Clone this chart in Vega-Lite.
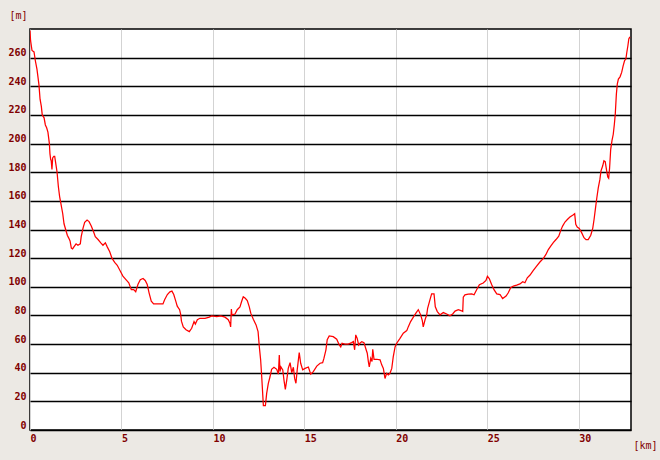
{
  "$schema": "https://vega.github.io/schema/vega-lite/v6.json",
  "width": 601,
  "height": 401,
  "autosize": "none",
  "padding": {"left": 30, "top": 29, "right": 29, "bottom": 30},
  "background": "#ECE9E4",
  "config": {
    "view": {"fill": "#FFFFFF", "stroke": "#000000", "strokeWidth": 1.5},
    "axis": {
      "labelFont": "DejaVu Sans Mono",
      "labelFontWeight": "bold",
      "labelFontSize": 10,
      "labelColor": "#800000",
      "titleFont": "DejaVu Sans Mono",
      "titleFontWeight": "normal",
      "titleFontSize": 10,
      "titleColor": "#800000",
      "ticks": false,
      "domain": false
    }
  },
  "data": {
    "values": [
      {"km": 0, "m": 279}, {"km": 0.03, "m": 272}, {"km": 0.11, "m": 265}, {"km": 0.22, "m": 264},
      {"km": 0.29, "m": 258}, {"km": 0.38, "m": 252}, {"km": 0.44, "m": 246}, {"km": 0.49, "m": 241},
      {"km": 0.55, "m": 231}, {"km": 0.62, "m": 226}, {"km": 0.67, "m": 220}, {"km": 0.77, "m": 218},
      {"km": 0.84, "m": 213}, {"km": 0.91, "m": 211}, {"km": 0.98, "m": 208}, {"km": 1.06, "m": 200},
      {"km": 1.09, "m": 193}, {"km": 1.13, "m": 189}, {"km": 1.16, "m": 188}, {"km": 1.2, "m": 182},
      {"km": 1.24, "m": 190}, {"km": 1.3, "m": 191}, {"km": 1.35, "m": 191}, {"km": 1.41, "m": 186},
      {"km": 1.48, "m": 180}, {"km": 1.55, "m": 170}, {"km": 1.62, "m": 163}, {"km": 1.69, "m": 158},
      {"km": 1.79, "m": 151}, {"km": 1.86, "m": 144}, {"km": 1.95, "m": 140}, {"km": 2.04, "m": 136},
      {"km": 2.12, "m": 134}, {"km": 2.19, "m": 132}, {"km": 2.26, "m": 127}, {"km": 2.33, "m": 126.5},
      {"km": 2.41, "m": 128}, {"km": 2.52, "m": 130}, {"km": 2.62, "m": 129}, {"km": 2.75, "m": 130},
      {"km": 2.8, "m": 135}, {"km": 2.9, "m": 141}, {"km": 2.99, "m": 145}, {"km": 3.12, "m": 146.6},
      {"km": 3.23, "m": 145.5}, {"km": 3.35, "m": 142.5}, {"km": 3.46, "m": 139}, {"km": 3.57, "m": 135},
      {"km": 3.72, "m": 133}, {"km": 3.87, "m": 130.7}, {"km": 3.99, "m": 129}, {"km": 4.12, "m": 130.7},
      {"km": 4.23, "m": 127.7}, {"km": 4.36, "m": 124.5}, {"km": 4.48, "m": 120}, {"km": 4.63, "m": 117},
      {"km": 4.77, "m": 115}, {"km": 4.92, "m": 111.4}, {"km": 5.08, "m": 107.5}, {"km": 5.27, "m": 104.7},
      {"km": 5.4, "m": 102.8}, {"km": 5.54, "m": 98}, {"km": 5.67, "m": 98}, {"km": 5.78, "m": 96.5},
      {"km": 5.9, "m": 101.6}, {"km": 6.03, "m": 105}, {"km": 6.18, "m": 105.8}, {"km": 6.3, "m": 104.4},
      {"km": 6.41, "m": 101.6}, {"km": 6.51, "m": 95.8}, {"km": 6.63, "m": 90}, {"km": 6.76, "m": 88},
      {"km": 7.0, "m": 88}, {"km": 7.27, "m": 88}, {"km": 7.36, "m": 91}, {"km": 7.51, "m": 94.6},
      {"km": 7.65, "m": 96.5}, {"km": 7.76, "m": 97}, {"km": 7.86, "m": 94.6}, {"km": 7.97, "m": 90},
      {"km": 8.05, "m": 86.5}, {"km": 8.18, "m": 84}, {"km": 8.24, "m": 80.6}, {"km": 8.28, "m": 76},
      {"km": 8.38, "m": 72}, {"km": 8.53, "m": 70}, {"km": 8.71, "m": 68.7}, {"km": 8.84, "m": 71},
      {"km": 8.97, "m": 75.7}, {"km": 9.04, "m": 74}, {"km": 9.15, "m": 77}, {"km": 9.29, "m": 78},
      {"km": 9.57, "m": 78}, {"km": 9.8, "m": 78.8}, {"km": 9.93, "m": 79.7}, {"km": 10.21, "m": 79.2},
      {"km": 10.43, "m": 79.7}, {"km": 10.66, "m": 78.8}, {"km": 10.84, "m": 77}, {"km": 10.93, "m": 74.6},
      {"km": 10.97, "m": 72}, {"km": 11.01, "m": 84.4}, {"km": 11.04, "m": 80.4}, {"km": 11.21, "m": 81},
      {"km": 11.33, "m": 84}, {"km": 11.48, "m": 86}, {"km": 11.57, "m": 89.7}, {"km": 11.66, "m": 93},
      {"km": 11.77, "m": 92}, {"km": 11.88, "m": 90.4}, {"km": 11.99, "m": 86}, {"km": 12.07, "m": 81.6},
      {"km": 12.21, "m": 77.4}, {"km": 12.36, "m": 73.4}, {"km": 12.47, "m": 68.7}, {"km": 12.54, "m": 58},
      {"km": 12.61, "m": 49}, {"km": 12.67, "m": 37}, {"km": 12.76, "m": 17}, {"km": 12.87, "m": 17},
      {"km": 12.94, "m": 25.6}, {"km": 13.03, "m": 32.6}, {"km": 13.12, "m": 37}, {"km": 13.21, "m": 42.4},
      {"km": 13.34, "m": 43.8}, {"km": 13.49, "m": 42.4}, {"km": 13.58, "m": 39}, {"km": 13.63, "m": 52.4},
      {"km": 13.67, "m": 40.8}, {"km": 13.72, "m": 44}, {"km": 13.82, "m": 42}, {"km": 13.89, "m": 34.5},
      {"km": 13.96, "m": 28.4}, {"km": 14.04, "m": 35}, {"km": 14.12, "m": 43}, {"km": 14.22, "m": 47},
      {"km": 14.31, "m": 40}, {"km": 14.4, "m": 43.8}, {"km": 14.47, "m": 36}, {"km": 14.54, "m": 32.6},
      {"km": 14.61, "m": 42}, {"km": 14.72, "m": 54}, {"km": 14.8, "m": 46.6}, {"km": 14.91, "m": 42},
      {"km": 15.04, "m": 43}, {"km": 15.22, "m": 44}, {"km": 15.35, "m": 39}, {"km": 15.49, "m": 40.8},
      {"km": 15.68, "m": 44.6}, {"km": 15.86, "m": 46.6}, {"km": 16.0, "m": 47}, {"km": 16.07, "m": 50},
      {"km": 16.18, "m": 56}, {"km": 16.25, "m": 63}, {"km": 16.36, "m": 65.7}, {"km": 16.58, "m": 65.2},
      {"km": 16.77, "m": 63.4}, {"km": 16.91, "m": 59.4}, {"km": 16.99, "m": 58}, {"km": 17.06, "m": 60.6},
      {"km": 17.22, "m": 60}, {"km": 17.4, "m": 60}, {"km": 17.59, "m": 61}, {"km": 17.68, "m": 61.7},
      {"km": 17.75, "m": 56}, {"km": 17.81, "m": 66.4}, {"km": 17.89, "m": 64}, {"km": 17.97, "m": 59.4},
      {"km": 18.04, "m": 60.6}, {"km": 18.14, "m": 61.7}, {"km": 18.26, "m": 61}, {"km": 18.37, "m": 56.4},
      {"km": 18.44, "m": 53.6}, {"km": 18.5, "m": 47.8}, {"km": 18.55, "m": 44}, {"km": 18.63, "m": 50},
      {"km": 18.7, "m": 47.8}, {"km": 18.74, "m": 56.4}, {"km": 18.81, "m": 49.4}, {"km": 18.96, "m": 49.4},
      {"km": 19.14, "m": 49}, {"km": 19.23, "m": 45.5}, {"km": 19.32, "m": 43}, {"km": 19.41, "m": 36},
      {"km": 19.5, "m": 39.6}, {"km": 19.59, "m": 38.5}, {"km": 19.68, "m": 39.6}, {"km": 19.78, "m": 43},
      {"km": 19.86, "m": 51}, {"km": 19.96, "m": 58}, {"km": 20.05, "m": 60.6}, {"km": 20.23, "m": 64},
      {"km": 20.41, "m": 67.6}, {"km": 20.6, "m": 69.4}, {"km": 20.68, "m": 72}, {"km": 20.81, "m": 75.7},
      {"km": 20.96, "m": 78.8}, {"km": 21.1, "m": 81.6}, {"km": 21.23, "m": 84}, {"km": 21.36, "m": 80.4},
      {"km": 21.45, "m": 76.4}, {"km": 21.5, "m": 72}, {"km": 21.6, "m": 77}, {"km": 21.69, "m": 80.4},
      {"km": 21.74, "m": 85}, {"km": 21.87, "m": 91}, {"km": 21.96, "m": 95}, {"km": 22.09, "m": 95},
      {"km": 22.16, "m": 86}, {"km": 22.27, "m": 82.7}, {"km": 22.42, "m": 80.4}, {"km": 22.6, "m": 82},
      {"km": 22.78, "m": 81}, {"km": 22.96, "m": 79.7}, {"km": 23.11, "m": 81}, {"km": 23.24, "m": 83},
      {"km": 23.42, "m": 84}, {"km": 23.56, "m": 83.4}, {"km": 23.66, "m": 82.7}, {"km": 23.69, "m": 92.8},
      {"km": 23.78, "m": 94.4}, {"km": 23.96, "m": 94.9}, {"km": 24.15, "m": 95}, {"km": 24.28, "m": 94.4},
      {"km": 24.42, "m": 97.9}, {"km": 24.57, "m": 101.4}, {"km": 24.78, "m": 102.6}, {"km": 24.93, "m": 104.4},
      {"km": 25.01, "m": 107.3}, {"km": 25.11, "m": 105.8}, {"km": 25.24, "m": 101.6}, {"km": 25.37, "m": 98},
      {"km": 25.52, "m": 95}, {"km": 25.7, "m": 94.6}, {"km": 25.84, "m": 91.8}, {"km": 26.03, "m": 93.5},
      {"km": 26.15, "m": 95.8}, {"km": 26.28, "m": 99.3}, {"km": 26.43, "m": 100.5}, {"km": 26.61, "m": 101.2},
      {"km": 26.79, "m": 102}, {"km": 26.94, "m": 103.5}, {"km": 27.06, "m": 102.8}, {"km": 27.19, "m": 106.3},
      {"km": 27.34, "m": 108.2}, {"km": 27.52, "m": 111.4}, {"km": 27.7, "m": 114.5}, {"km": 27.88, "m": 117.3},
      {"km": 28.07, "m": 119.8}, {"km": 28.21, "m": 122.6}, {"km": 28.34, "m": 126}, {"km": 28.47, "m": 128.4},
      {"km": 28.61, "m": 130.8}, {"km": 28.76, "m": 133}, {"km": 28.91, "m": 135.4}, {"km": 29.02, "m": 139.4},
      {"km": 29.12, "m": 142.4}, {"km": 29.25, "m": 145.2}, {"km": 29.38, "m": 147}, {"km": 29.52, "m": 148.7},
      {"km": 29.67, "m": 150}, {"km": 29.78, "m": 151}, {"km": 29.84, "m": 143.6}, {"km": 29.92, "m": 141.7},
      {"km": 30.03, "m": 140.8}, {"km": 30.16, "m": 137.8}, {"km": 30.29, "m": 134.3}, {"km": 30.4, "m": 132.9},
      {"km": 30.52, "m": 133}, {"km": 30.66, "m": 136}, {"km": 30.77, "m": 141}, {"km": 30.84, "m": 147},
      {"km": 30.91, "m": 154}, {"km": 30.99, "m": 162}, {"km": 31.07, "m": 169}, {"km": 31.16, "m": 175},
      {"km": 31.22, "m": 181}, {"km": 31.31, "m": 184.3}, {"km": 31.38, "m": 188}, {"km": 31.45, "m": 187.4},
      {"km": 31.53, "m": 181}, {"km": 31.59, "m": 176.7}, {"km": 31.64, "m": 175.8}, {"km": 31.69, "m": 183},
      {"km": 31.75, "m": 196}, {"km": 31.82, "m": 202}, {"km": 31.89, "m": 206.5}, {"km": 31.95, "m": 213.5},
      {"km": 32.0, "m": 220.5}, {"km": 32.06, "m": 234.5}, {"km": 32.11, "m": 241.5}, {"km": 32.17, "m": 245},
      {"km": 32.26, "m": 246.6}, {"km": 32.35, "m": 249.7}, {"km": 32.43, "m": 254.3}, {"km": 32.51, "m": 258},
      {"km": 32.58, "m": 259}, {"km": 32.63, "m": 263.6}, {"km": 32.69, "m": 268.3}, {"km": 32.74, "m": 273},
      {"km": 32.8, "m": 274.5}
    ]
  },
  "mark": {"type": "line", "color": "#FF0000", "strokeWidth": 1.25, "clip": true, "interpolate": "linear"},
  "encoding": {
    "x": {
      "field": "km",
      "type": "quantitative",
      "scale": {"domain": [0, 32.86], "nice": false, "zero": false},
      "axis": {
        "values": [0, 5, 10, 15, 20, 25, 30],
        "grid": true,
        "gridColor": "#D3D3D3",
        "gridWidth": 1,
        "labelAlign": "left",
        "labelBaseline": "top",
        "labelPadding": 3,
        "labelFlush": false,
        "title": "[km]",
        "titleAlign": "left",
        "titleBaseline": "alphabetic",
        "titleAnchor": "start",
        "titleX": 603,
        "titleY": 18
      }
    },
    "y": {
      "field": "m",
      "type": "quantitative",
      "scale": {"domain": [0, 280], "nice": false},
      "axis": {
        "values": [0, 20, 40, 60, 80, 100, 120, 140, 160, 180, 200, 220, 240, 260],
        "grid": true,
        "gridColor": "#000000",
        "gridWidth": 1.5,
        "labelAlign": "right",
        "labelBaseline": "alphabetic",
        "labelOffset": -2,
        "labelPadding": 4,
        "labelFlush": false,
        "title": "[m]",
        "titleAngle": 0,
        "titleAlign": "left",
        "titleBaseline": "alphabetic",
        "titleAnchor": "start",
        "titleX": -21,
        "titleY": -11
      }
    }
  }
}
